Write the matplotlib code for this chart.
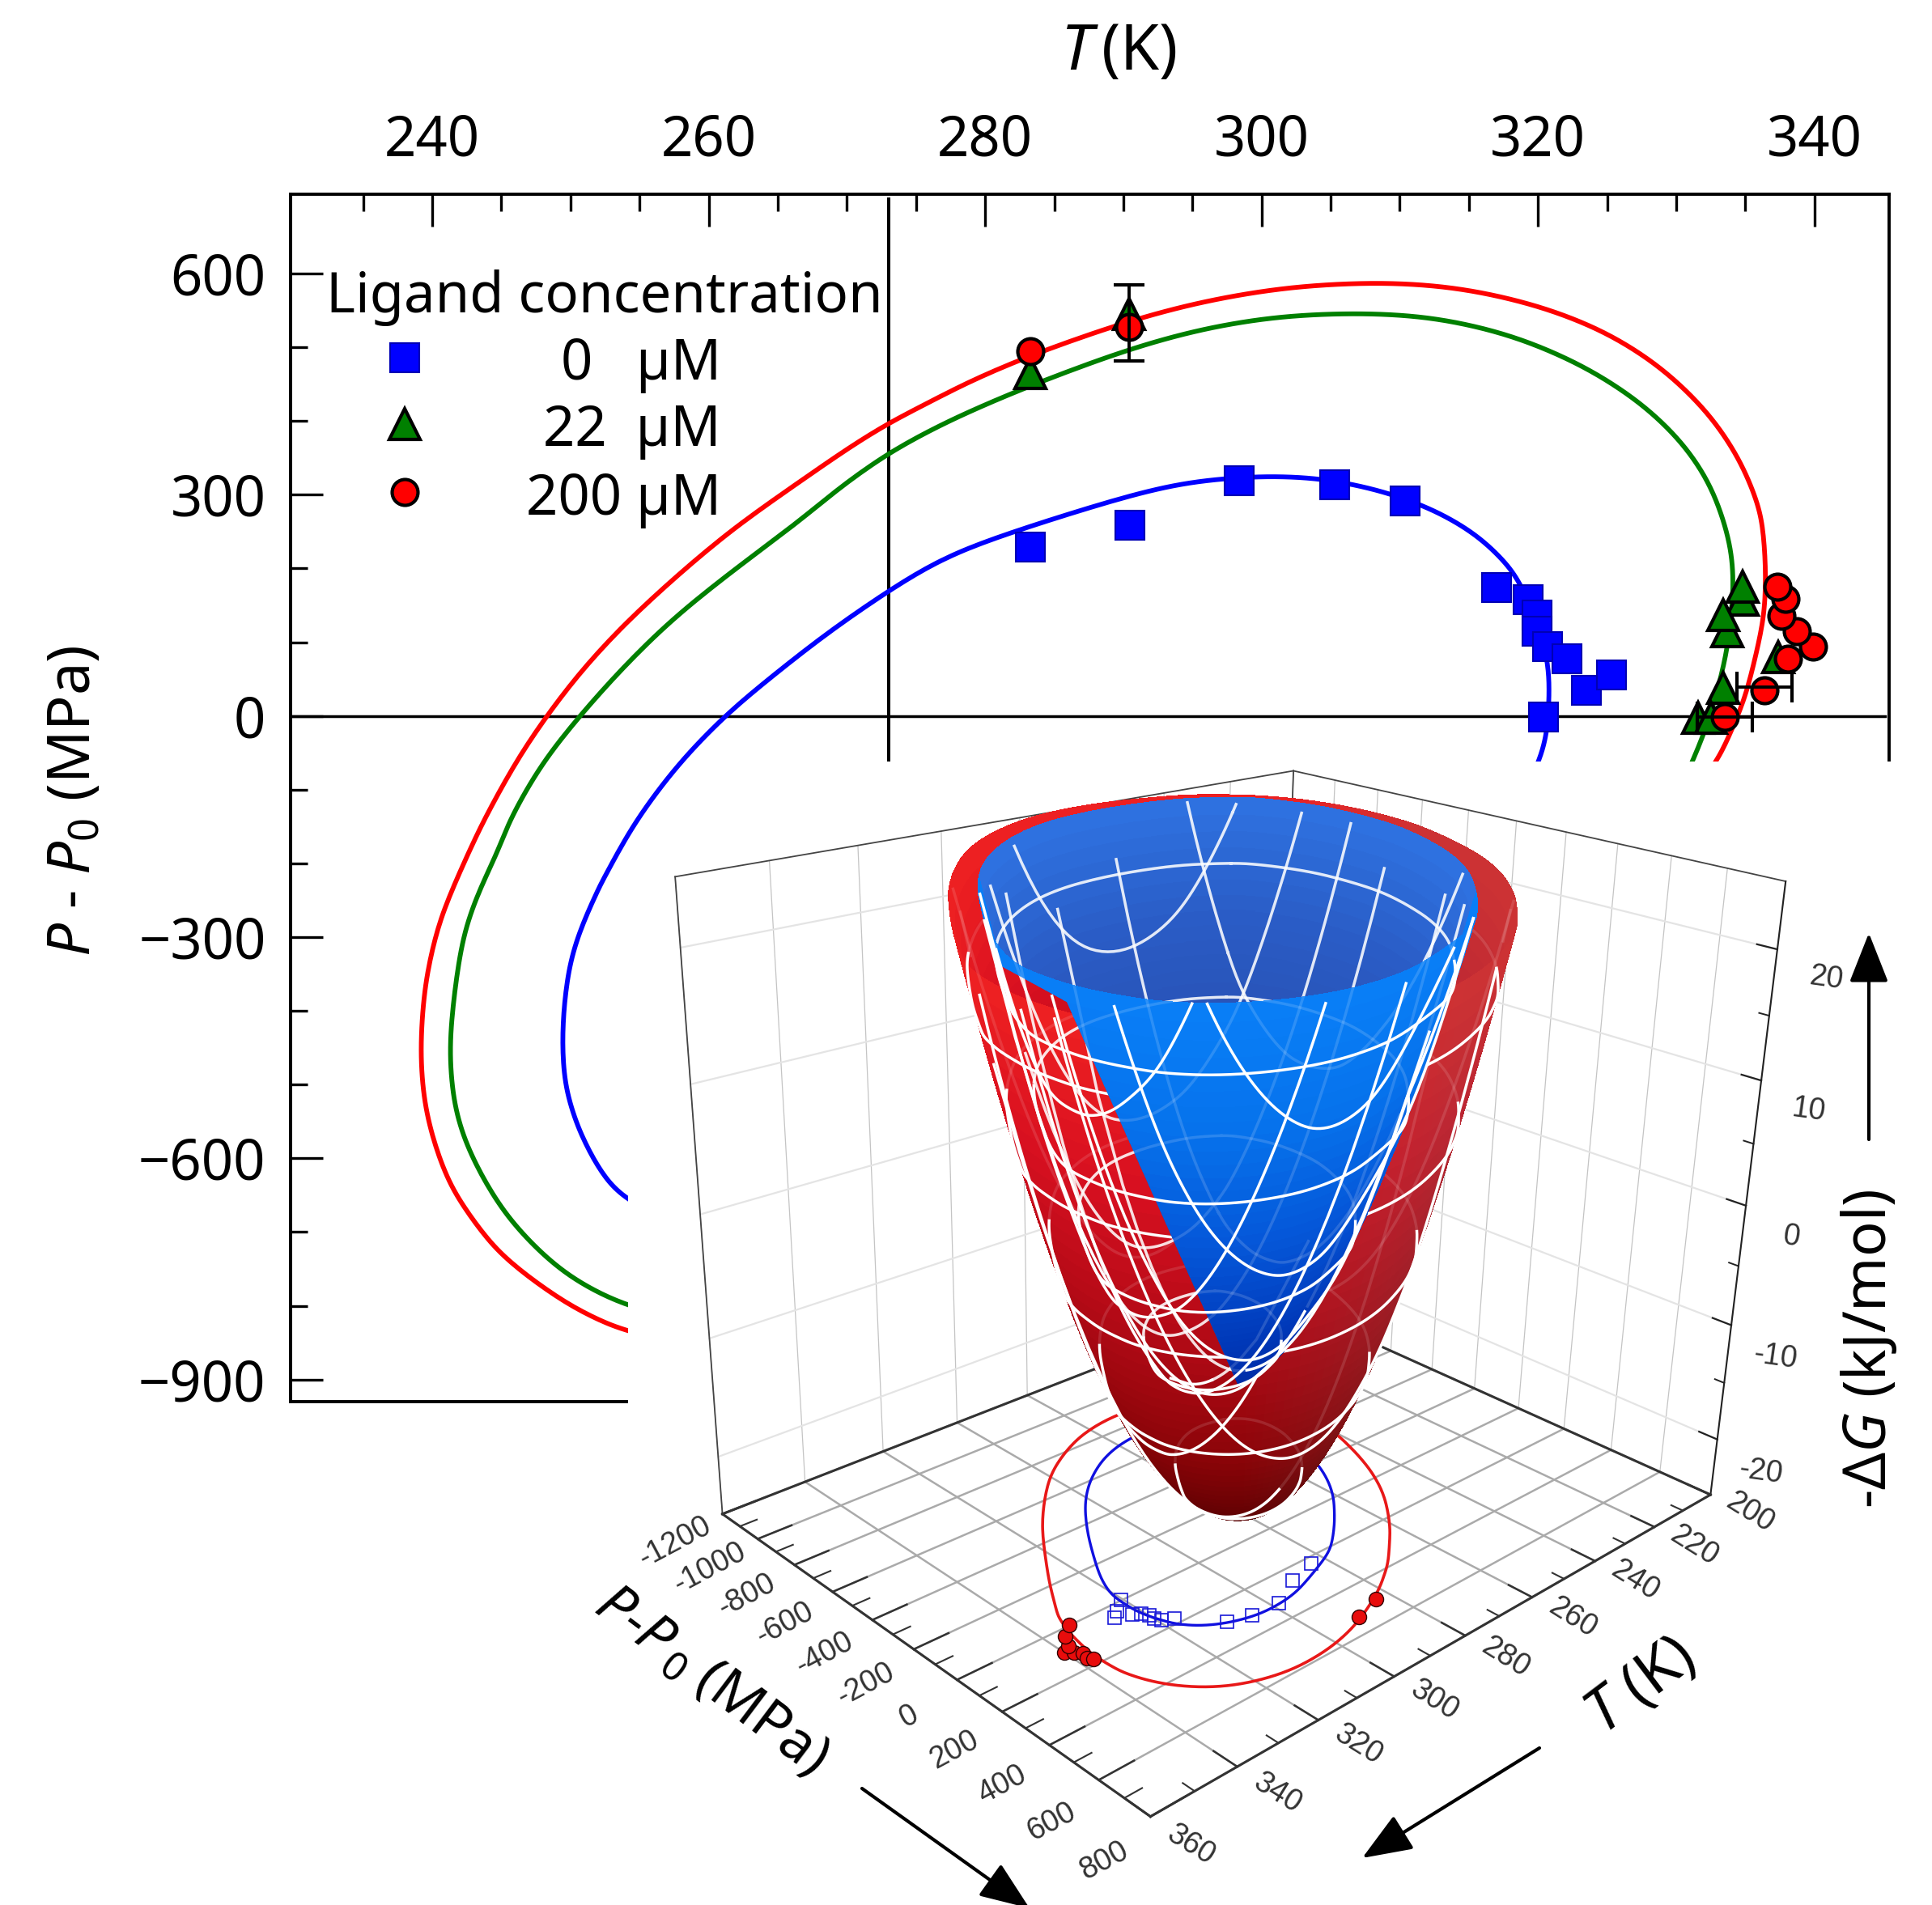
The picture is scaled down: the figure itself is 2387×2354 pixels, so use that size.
# phase diagram of protein stability with the free energy paraboloids as inset
import numpy as np
import matplotlib
matplotlib.use("Agg")
import matplotlib.pyplot as plt
from matplotlib.patches import Polygon, FancyArrowPatch
from matplotlib.ticker import FixedLocator
from mpl_toolkits.mplot3d import proj3d

W, H = 2387, 2354

# boundary curves, the last points of each are under the inset
red_T = [254.2, 252.1, 249.7, 246.8, 244.6, 242.9, 241.3, 240.2, 239.4, 239.1, 239.4, 240.1, 240.9, 242.7, 243.9,
         246.1, 248.3, 250.8, 253.9, 257.8, 261.8, 266.3, 270.3, 273.1, 275.7, 279.0, 283.5, 290.2, 295.8, 302.1,
         308.9, 314.5, 320.1, 324.9, 329.0, 332.4, 334.6, 335.9, 336.3, 336.5, 336.4, 335.8, 335.0, 333.9, 333.0,
         331, 327, 322, 315, 308, 300, 292, 284, 276, 268, 261]
red_P = [-836, -820, -797, -759, -724, -683, -638, -584, -526, -455, -370, -307, -258, -182, -135,
         -60, 1, 62, 125, 192, 255, 314, 366, 398, 423, 455, 491, 535, 563, 583,
         589, 581, 557, 522, 473, 411, 349, 290, 254, 195, 137, 85, 24, -24, -61,
         -110, -210, -320, -470, -590, -710, -790, -850, -880, -885, -865]
green_T = [254.2, 250.1, 247.6, 245.4, 243.7, 242.3, 241.5, 241.2, 241.6, 242.2, 243.3, 244.8, 245.6, 247.9, 250.7,
           253.7, 257.3, 261.8, 266.3, 269.6, 273.1, 276.4, 279.0, 283.1, 290.2, 295.8, 301.4, 307.4, 312.6, 318.2,
           323.4, 327.5, 330.5, 332.6, 333.9, 334.2, 333.9, 333.5, 332.6, 332.0, 331.2,
           330, 326, 321, 314, 307, 299, 291, 283, 275, 267, 260]
green_P = [-804, -764, -724, -679, -629, -575, -522, -450, -374, -298, -240, -182, -140, -64, 1,
           64, 131, 198, 260, 312, 358, 391, 414, 447, 497, 526, 543, 547, 541, 517,
           475, 425, 371, 312, 239, 184, 118, 71, 9, -24, -61,
           -110, -210, -320, -470, -590, -700, -770, -820, -845, -845, -825]
blue_T = [254.2, 252.8, 251.7, 250.5, 249.6, 249.4, 249.5, 249.9, 250.7, 252.1, 252.6, 254.6, 257.8, 261.2, 264.0,
          268.5, 273.1, 276.1, 279.0, 283.5, 290.2, 294.7, 299.9, 304.4, 308.9, 312.6, 315.6, 317.8, 318.8, 320.0,
          320.5, 320.8, 320.8, 320.7, 320.2, 318, 314, 309, 302, 295, 287, 279, 270, 262, 258]
blue_P = [-658, -634, -603, -558, -504, -450, -397, -338, -289, -231, -214, -144, -64, 1, 45,
          112, 171, 205, 230, 259, 298, 318, 326, 323, 305, 279, 246, 206, 177, 126,
          93, 57, 24, -17, -61, -140, -240, -360, -500, -600, -680, -725, -736, -720, -695]

# measured points
pts_blue_T = [283.3, 290.5, 298.4, 305.3, 310.4, 317.0, 319.3, 319.9, 319.9, 320.7, 322.1, 323.5, 325.3, 320.4]
pts_blue_P = [229, 259, 319, 314, 291, 174, 158, 137, 115, 94, 78, 35, 56, -2]
pts_green_T = [283.3, 290.4, 334.8, 334.8, 333.7, 333.4, 337.4, 333.4, 331.6, 332.5]
pts_green_P = [465, 545, 158, 175, 115, 137, 80, 38, -3, -3]
pts_red_T = [283.3, 290.4, 339.9, 338.7, 337.6, 337.9, 337.3, 338.1, 336.4, 333.5]
pts_red_P = [495, 528, 94, 115, 136, 159, 175, 78, 35, -2]

xticks_main = [240, 260, 280, 300, 320, 340]
xticks_minor = [235, 245, 250, 255, 265, 270, 275, 285, 290, 295, 305, 310, 315, 325, 330, 335]
yticks_main = [-900, -600, -300, 0, 300, 600]
yticks_minor = [-800, -700, -500, -400, -200, -100, 100, 200, 400, 500]
legend_names = ["0   µM", "22  µM", "200 µM"]
legend_P = [486, 396, 304]

# inset
t_ticks = [200, 220, 240, 260, 280, 300, 320, 340, 360]
p_ticks = [-1200, -1000, -800, -600, -400, -200, 0, 200, 400, 600, 800]
z_ticks = [-20, -10, 0, 10, 20]
red_center = (282.6, -77)
red_shift = (-1.4, 18)
blue_center = (285.1, -205)
red_vertex = -23.0
blue_vertex = -13.5
blue_gain = 1.05
z_top = 25.0
ring_levels = [-20, -10, 0, 10, 20]
red_plane_T = [250, 320]
red_plane_P = [-700, 0, 400]
blue_plane_T = [220, 240, 260, 280, 300, 320, 340]
blue_plane_P = [-1200, -1000, -800, -600, -400, -200, 0, 200, 400, 600, 800]
red_shades = ["#4e0000", "#8a0408", "#b20a16", "#d81020", "#f02222"]
blue_shades = ["#00269c", "#0038b8", "#0556d8", "#0672ec", "#0a80f8"]
back_shades = ["#27479f", "#27479f", "#2850b2", "#2a5cc6", "#2f74e4"]

plt.rcParams['font.family'] = ['Noto Sans', 'DejaVu Sans']
plt.rcParams['mathtext.fontset'] = 'custom'
plt.rcParams['mathtext.rm'] = 'Noto Sans'
plt.rcParams['mathtext.it'] = 'Noto Sans:italic'

fig = plt.figure(figsize=(W / 100, H / 100), dpi=100)


def fx(px):
    return px / W


def fy(py):
    return 1 - py / H


def fig_text(px, py, s, **kw):
    return fig.text(fx(px), fy(py), s, ha=kw.pop('ha', 'center'), va=kw.pop('va', 'center'), zorder=20, **kw)


def smooth_loop(T, P, k=8, sigma=3.5):
    # the read points are a little noisy, round them off along the closed loop
    T = np.r_[T, T[0]]
    P = np.r_[P, P[0]]
    u = np.arange(len(T))
    v = np.linspace(0, len(T) - 1, (len(T) - 1) * k, endpoint=False)
    Ti, Pi = np.interp(v, u, T), np.interp(v, u, P)
    half = int(3 * sigma)
    w = np.exp(-0.5 * (np.arange(-half, half + 1) / sigma) ** 2)
    w /= w.sum()
    Ts = np.convolve(np.r_[Ti[-half:], Ti, Ti[:half]], w, mode='valid')
    Ps = np.convolve(np.r_[Pi[-half:], Pi, Pi[:half]], w, mode='valid')
    return Ts, Ps


def closed(a):
    return np.r_[a, a[0]]


red_Ts, red_Ps = smooth_loop(red_T, red_P)
green_Ts, green_Ps = smooth_loop(green_T, green_P)
blue_Ts, blue_Ps = smooth_loop(blue_T, blue_P)

# ---------- upper chart ----------
ax = fig.add_axes([fx(359), fy(1732), fx(2334 - 359), (1732 - 240) / H])
ax.set_xlim(229.75, 345.4)
ax.set_ylim(-930, 707.5)
for s in ax.spines.values():
    s.set_linewidth(2.8)
ax.xaxis.tick_top()
ax.set_xticks(xticks_main)
ax.set_yticks(yticks_main)
ax.xaxis.set_minor_locator(FixedLocator(xticks_minor))
ax.yaxis.set_minor_locator(FixedLocator(yticks_minor))
ax.tick_params(which='major', direction='in', length=29, width=2.4, labelsize=49.5, pad=22)
ax.tick_params(which='minor', direction='in', length=15, width=2.4)
ax.tick_params(axis='x', which='both', top=True, bottom=False)
ax.tick_params(axis='y', which='both', left=True, right=False)

ax.plot([273, 273], [701, -930], color='k', lw=2.9, zorder=2)
ax.plot([229.75, 345.1], [0, 0], color='k', lw=2.5, zorder=2)
ax.plot(closed(blue_Ts), closed(blue_Ps), color='#0000ff', lw=4.2, zorder=3)
ax.plot(closed(green_Ts), closed(green_Ps), color='#008000', lw=4.2, zorder=3)
ax.plot(closed(red_Ts), closed(red_Ps), color='#ff0000', lw=4.2, zorder=3)

square = dict(marker='s', ms=26, mfc='#0000ff', mec='#0000b4', mew=1.5, ls='none')
tri = dict(marker='^', ms=27, mfc='#008000', mec='k', mew=3, ls='none')
circ = dict(marker='o', ms=23, mfc='#ff0000', mec='k', mew=3, ls='none')
ax.plot(pts_blue_T, pts_blue_P, zorder=4, **square)
ax.plot(pts_green_T, pts_green_P, zorder=5, **tri)
ax.plot(pts_red_T, pts_red_P, zorder=6, **circ)
ax.errorbar([290.4], [533], yerr=[52], color='k', elinewidth=2.8, capsize=14, capthick=3, ls='none', zorder=7)
ax.errorbar([336.4, 333.5], [39, -2], xerr=[2, 2], color='k', elinewidth=2.8, capsize=14, capthick=3, ls='none', zorder=7)

# legend block
ax.plot([238], [legend_P[0]], **square)
ax.plot([238], [legend_P[1]], **tri)
ax.plot([238], [legend_P[2]], **circ)
fig_text(403, 368, "Ligand concentration", ha='left', fontsize=49.5)
for name, py in zip(legend_names, [451, 533, 618]):
    fig_text(891, py, name, ha='right', fontsize=49.5)

fig_text(1382, 66, r"$T\,$(K)", fontsize=56)
fig_text(92, 990, r"$P$ - $P_0$ (MPa)", rotation=90, fontsize=52)

# white part that hides the corner of the chart
mask = [(776, H), (776, 1100), (1000, 941), (W, 941), (W, H)]
fig.add_artist(Polygon([(fx(a), fy(b)) for a, b in mask], closed=True, transform=fig.transFigure,
                       fc='white', ec='none', zorder=5))

# ---------- inset ----------
s3 = 1398
floor, tmin, tmax, pmin, pmax = -25, 200, 360, -1200, 800
ax3 = fig.add_axes([fx(806), fy(2213), s3 / W, s3 / H], projection='3d', computed_zorder=False, zorder=6)
ax3.patch.set_alpha(0)
ax3.set_proj_type('persp', focal_length=0.36)
ax3.view_init(elev=22.5, azim=45.5, roll=-1.5)
ax3.set_box_aspect((1.347, 1.104, 1.12), zoom=1.07)
ax3.set_axis_off()
ax3.set_xlim(tmin, tmax, view_margin=0)
ax3.set_ylim(pmin, pmax, view_margin=0)
ax3.set_zlim(floor, z_top, view_margin=0)


def line3(x, y, z, **kw):
    return ax3.plot(x, y, z, clip_on=kw.pop('clip_on', False), **kw)


def label3(x, y, z, s, rot):
    px, py, _ = proj3d.proj_transform(x, y, z, ax3.get_proj())
    ax3.text2D(px, py, s, transform=ax3.transData, rotation=rot, rotation_mode='anchor', family='Liberation Sans',
               color='#333333', fontsize=27, ha='center', va='center', zorder=9)


for t in t_ticks:
    line3([t, t], [pmin, pmax], [floor, floor], color='#aaaaaa', lw=1.8, zorder=1)
    line3([t, t], [pmin, pmin], [floor, z_top], color='#c4c4c4', lw=0.9, zorder=1)
for p in p_ticks:
    line3([tmin, tmax], [p, p], [floor, floor], color='#aaaaaa', lw=1.8, zorder=1)
    line3([tmin, tmin], [p, p], [floor, z_top], color='#c4c4c4', lw=0.9, zorder=1)
for z in z_ticks:
    line3([tmax, tmin], [pmin, pmin], [z, z], color='#e4e4e4', lw=1.6, zorder=1)
    line3([tmin, tmin], [pmin, pmax], [z, z], color='#e4e4e4', lw=1.6, zorder=1)

# box edges
for a, b in [((tmax, pmin, z_top), (tmin, pmin, z_top)), ((tmin, pmin, z_top), (tmin, pmax, z_top)),
             ((tmin, pmin, floor), (tmin, pmin, z_top)), ((tmax, pmin, floor), (tmax, pmin, z_top))]:
    line3(*zip(a, b), color='#444444', lw=1.3, zorder=2)
line3([tmin, tmin], [pmax, pmax], [floor, z_top], color='#222222', lw=1.5, zorder=2)
for a, b in [((tmax, pmin, floor), (tmax, pmax, floor)), ((tmin, pmax, floor), (tmax, pmax, floor)),
             ((tmin, pmin, floor), (tmax, pmin, floor)), ((tmin, pmin, floor), (tmin, pmax, floor))]:
    line3(*zip(a, b), color='#333333', lw=2.2, zorder=2)

# ticks and their labels
for p in p_ticks:
    line3([tmax, tmax - 8], [p, p], [floor, floor], color='#333333', lw=1.8, zorder=2)
    label3(tmax + 13, p + 50, floor, str(p), 28)
for p in np.array(p_ticks[:-1]) + 100:
    line3([tmax, tmax - 4], [p, p], [floor, floor], color='#333333', lw=1.5, zorder=2)
for t in t_ticks:
    line3([t, t], [pmax, pmax - 90], [floor, floor], color='#333333', lw=1.8, zorder=2)
    label3(t, pmax + 150, floor, str(t), -32)
for t in np.array(t_ticks[:-1]) + 10:
    line3([t, t], [pmax, pmax - 45], [floor, floor], color='#333333', lw=1.5, zorder=2)
for z in z_ticks:
    line3([tmin, tmin], [pmax, pmax - 70], [z, z], color='#222222', lw=1.6, zorder=2)
    label3(tmin, pmax + 170, z - 1.2, str(z), -8)
for z in np.array(z_ticks[:-1]) + 5:
    line3([tmin, tmin], [pmax, pmax - 35], [z, z], color='#222222', lw=1.4, zorder=2)

# projection of the boundaries on the floor
line3(closed(red_Ts), closed(red_Ps), np.full(len(red_Ts) + 1, floor), color='#e81818', lw=2.6, zorder=3)
line3(closed(blue_Ts), closed(blue_Ps), np.full(len(blue_Ts) + 1, floor), color='#1010e0', lw=2.4, zorder=3)
line3(pts_blue_T, pts_blue_P, [floor] * len(pts_blue_T), marker='s', ms=12, mfc='none', mec='#1818d8', mew=1.2,
      ls='none', zorder=4)
line3(pts_red_T, pts_red_P, [floor] * len(pts_red_T), marker='o', ms=13, mfc='#e80c0c', mec='#300000', mew=1,
      ls='none', zorder=4)


def front_amount(T, P, center):
    return (T - center[0]) / 160 * 1.22 + (P - center[1]) / 2000


def shade(z, z0, names):
    rgb = np.array([matplotlib.colors.to_rgb(c) for c in names])
    u = np.clip((z - z0) / (z_top - z0), 0, 1) * (len(names) - 1)
    return np.stack([np.interp(u, np.arange(len(names)), rgb[:, i]) for i in range(3)], axis=-1)


def surface(T, P, center, z0, names, zorder, part=None, right_fade=0.0, gain=1.0):
    Td, Pd = T[::3], P[::3]
    if part is None:
        Td, Pd = closed(Td), closed(Pd)
    else:
        f = front_amount(Td, Pd, center)
        keep = f >= 0 if part == 'front' else f < 0
        start = np.where(keep & ~np.roll(keep, 1))[0][0]
        Td, Pd, keep = np.roll(Td, -start), np.roll(Pd, -start), np.roll(keep, -start)
        n = np.where(~keep)[0][0]
        Td, Pd = Td[:n + 1], Pd[:n + 1]
    smax = gain * np.sqrt((z_top - z0) / -z0)
    s = np.linspace(0.02, smax, 60)
    X = center[0] + np.outer(s, Td - center[0])
    Y = center[1] + np.outer(s, Pd - center[1])
    Z = z0 - z0 * np.outer((s / gain) ** 2, np.ones_like(Td))
    col = shade(Z, z0, names)
    lateral = np.clip((-(X - center[0]) / 160 * 1.22 + (Y - center[1]) / 2000) / 0.35, 0, 1)
    col = col * (1 - right_fade * lateral[..., None]) + right_fade * lateral[..., None] * 0.42
    rgba = np.concatenate([col, np.ones(X.shape + (1,))], axis=-1)
    return ax3.plot_surface(X, Y, Z, facecolors=rgba, shade=False, rstride=1, cstride=1, linewidth=0,
                            antialiased=False, zorder=zorder)


def mesh(T, P, center, z0, planes, zorder, front=True, alpha=1.0, clip=None, lw=2.5, gain=1.0):
    Td, Pd = closed(T), closed(P)
    smax = gain * np.sqrt((z_top - z0) / -z0)
    curves = []
    for z in ring_levels:
        if z > z0:
            s = gain * np.sqrt((z - z0) / -z0)
            curves.append((center[0] + s * (Td - center[0]), center[1] + s * (Pd - center[1]), np.full(Td.shape, float(z))))
    dT, dP = Td - center[0], Pd - center[1]
    for val, d, base in [(v, dT, center[0]) for v in planes[0]] + [(v, dP, center[1]) for v in planes[1]]:
        with np.errstate(divide='ignore', invalid='ignore'):
            s = (val - base) / d
        s[(s <= 0) | (s > smax)] = np.nan
        curves.append((center[0] + s * dT, center[1] + s * dP, z0 - z0 * (s / gain) ** 2))
    for X, Y, Z in curves:
        f = front_amount(X, Y, center)
        Z = Z.copy()
        Z[(f < 0) if front else (f >= 0)] = np.nan
        l = line3(X, Y, Z, color='white', lw=lw, alpha=alpha, zorder=zorder)[0]
        if clip is not None:
            l.set_clip_path(clip)


blue_clip = Polygon([(fx(1066), fy(914)), (fx(1980), fy(914)), (fx(1980), fy(1903)), (fx(1530), fy(1712)),
                     (fx(1318), fy(1238)), (fx(1212), fy(1180)), (fx(1180), fy(1120))],
                    closed=True, transform=fig.transFigure)
red_planes = (red_plane_T, red_plane_P)
blue_planes = (blue_plane_T, blue_plane_P)
red_sT, red_sP = red_Ts + red_shift[0], red_Ps + red_shift[1]

surface(red_sT, red_sP, red_center, red_vertex, red_shades, 5, right_fade=0.25)
mesh(red_sT, red_sP, red_center, red_vertex, red_planes, 6, front=False, alpha=0.12)
mesh(red_sT, red_sP, red_center, red_vertex, red_planes, 6)
bk = surface(blue_Ts, blue_Ps, blue_center, blue_vertex, back_shades, 7, part='back', gain=blue_gain)
bk.set_clip_path(blue_clip)
mesh(blue_Ts, blue_Ps, blue_center, blue_vertex, blue_planes, 8, front=False, alpha=0.85, clip=blue_clip, gain=blue_gain)
fr = surface(blue_Ts, blue_Ps, blue_center, blue_vertex, blue_shades, 9, part='front', gain=blue_gain)
fr.set_clip_path(blue_clip)
mesh(blue_Ts, blue_Ps, blue_center, blue_vertex, blue_planes, 10, front=False, alpha=0.15, clip=blue_clip, gain=blue_gain)
mesh(blue_Ts, blue_Ps, blue_center, blue_vertex, blue_planes, 10, clip=blue_clip, gain=blue_gain)

# axis names and arrows around the inset
fig_text(878, 2078, r"$P$-$P_{\,0}$ (MPa)", rotation=-37, fontsize=50)
fig_text(2028, 2085, r"$T$ (K)", rotation=37, fontsize=54)
fig_text(2311, 1667, r"-$\Delta G$ (kJ/mol)", rotation=90, fontsize=52)
for a, b in [((1065, 2210), (1272, 2358)), ((1902, 2160), (1683, 2296)), ((2309, 1408), (2309, 1153))]:
    fig.add_artist(FancyArrowPatch((fx(a[0]), fy(a[1])), (fx(b[0]), fy(b[1])), transform=fig.transFigure,
                                   arrowstyle='-|>,head_length=38,head_width=15', mutation_scale=1, color='k',
                                   lw=3, shrinkA=0, shrinkB=0, zorder=21))

fig.savefig("out.png", dpi=100)
